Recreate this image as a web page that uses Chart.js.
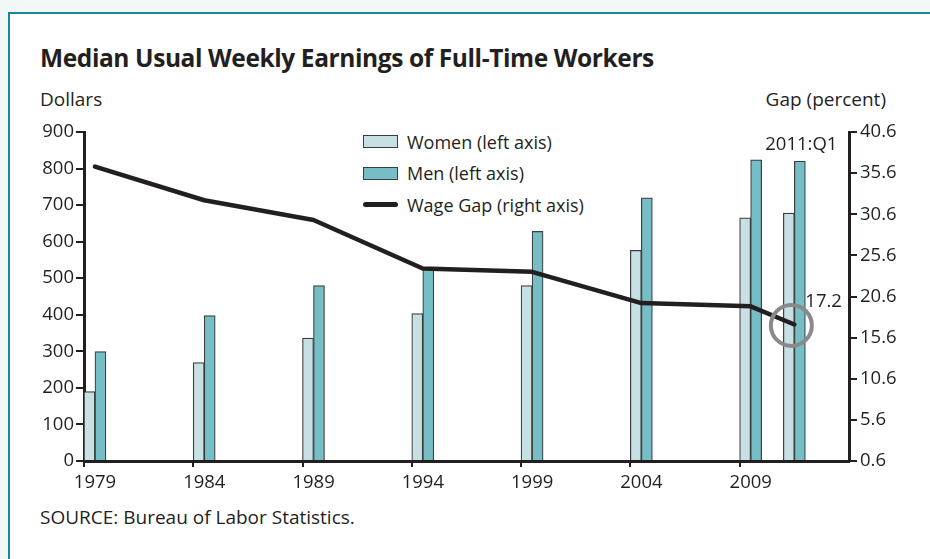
<!DOCTYPE html>
<html>
<head>
<meta charset="utf-8">
<script src="https://cdn.jsdelivr.net/npm/chart.js@4.4.1/dist/chart.umd.min.js"></script>
<style>
body{margin:0;width:930px;height:559px;overflow:hidden;position:relative;background:#f2f7f8;font-family:'Open Sans',sans-serif;color:#231f20}
.frame{position:absolute;left:8px;top:12px;right:0;bottom:0;background:#fff;border-top:2.5px solid #17899a;border-left:2.5px solid #17899a}
.txt{position:absolute;white-space:nowrap;line-height:1}
#title{left:40px;top:46px;font-size:24.5px;font-weight:700;letter-spacing:-0.4px}
#ylab{left:40px;top:90px;font-size:19px}
#y2lab{right:44px;top:90px;font-size:19px}
#source{left:40px;top:508px;font-size:19px}
#legend{position:absolute;left:363px;top:126px;font-size:18px}
.item{display:flex;align-items:center;height:31.5px}
.sw{width:33px;height:11px;border:1px solid #3c3c3c;margin-right:9px}
.ln{width:35px;height:5px;background:#231f20;border-radius:3px;margin-right:9px}
canvas{position:absolute;left:0;top:0}
</style>
</head>
<body>
<div class="frame"></div>
<div class="txt" id="title">Median Usual Weekly Earnings of Full-Time Workers</div>
<div class="txt" id="ylab">Dollars</div>
<div class="txt" id="y2lab">Gap (percent)</div>
<div class="txt" id="source">SOURCE: Bureau of Labor Statistics.</div>
<div id="legend">
  <div class="item"><span class="sw" style="background:#c7e0e4"></span>Women (left axis)</div>
  <div class="item"><span class="sw" style="background:#76bec6"></span>Men (left axis)</div>
  <div class="item"><span class="ln"></span>Wage Gap (right axis)</div>
</div>
<canvas id="chart" width="930" height="559"></canvas>
<script>
// values
const years = [1979, 1984, 1989, 1994, 1999, 2004, 2009, 2011];
const women = [190, 269, 336, 403, 480, 576, 665, 678];
const men = [299, 398, 480, 526, 628, 720, 824, 820];
const gap = [36.4, 32.3, 29.9, 24.0, 23.6, 19.8, 19.4, 17.2];
const tickYears = [1979, 1984, 1989, 1994, 1999, 2004, 2009];
const gapTicks = [0.6, 5.6, 10.6, 15.6, 20.6, 25.6, 30.6, 35.6, 40.6];
const lastLabel = '2011:Q1';

const ink = '#231f20';
const font = { family: "'Open Sans', sans-serif", size: 18.5 };

// bars sit just right of the year tick, so the pair is centred half a year on
const pts = arr => arr.map((v, i) => ({ x: years[i] + 0.5, y: v }));

const notes = {
    id: 'notes',
    afterDatasetsDraw(chart) {
        const c = chart.ctx;
        const x = chart.scales.x, y = chart.scales.y, y2 = chart.scales.y2;
        const n = years.length - 1;
        const px = x.getPixelForValue(years[n] + 0.5);
        const py = y2.getPixelForValue(gap[n]);
        c.save();
        c.strokeStyle = '#8a8a8a';
        c.lineWidth = 4;
        c.beginPath();
        c.arc(px - 3, py + 1, 20.5, 0, Math.PI * 2);
        c.stroke();
        c.fillStyle = ink;
        c.font = "18.5px 'Open Sans', sans-serif";
        c.textBaseline = 'middle';
        c.textAlign = 'left';
        c.fillText(gap[n].toFixed(1), px + 11, py - 23);
        c.textAlign = 'center';
        c.fillText(lastLabel, px + 7, y.getPixelForValue(men[n]) - 17);
        c.restore();
    }
};

new Chart(document.getElementById('chart'), {
    type: 'bar',
    data: {
        datasets: [
            {
                type: 'line',
                label: 'Wage Gap (right axis)',
                data: pts(gap),
                yAxisID: 'y2',
                borderColor: ink,
                borderWidth: 4.5,
                pointRadius: 0,
                tension: 0,
                borderCapStyle: 'round',
                borderJoinStyle: 'round',
                order: 0
            },
            {
                label: 'Women (left axis)',
                data: pts(women),
                backgroundColor: '#c7e0e4',
                borderColor: '#3c3c3c',
                borderWidth: 1.2,
                barThickness: 11,
                order: 1
            },
            {
                label: 'Men (left axis)',
                data: pts(men),
                backgroundColor: '#76bec6',
                borderColor: '#3c3c3c',
                borderWidth: 1.2,
                barThickness: 11,
                order: 1
            }
        ]
    },
    options: {
        responsive: false,
        animation: false,
        devicePixelRatio: 1,
        layout: { padding: { left: 0, right: 0, top: 132, bottom: 68 } },
        plugins: { legend: { display: false }, tooltip: { enabled: false } },
        scales: {
            x: {
                type: 'linear',
                min: 1979,
                max: 2014,
                offset: false,
                afterBuildTicks: s => { s.ticks = tickYears.map(v => ({ value: v })); },
                afterFit: s => { s.height = 30; },
                grid: { drawOnChartArea: false, offset: false, color: ink, lineWidth: 2, tickLength: 6 },
                border: { color: ink, width: 3 },
                ticks: { color: ink, font: font, padding: 5, labelOffset: 11, maxRotation: 0, callback: v => String(v) }
            },
            y: {
                position: 'left',
                min: 0,
                max: 900,
                ticks: { stepSize: 100, color: ink, font: font, padding: 2 },
                afterFit: s => { s.width = 84; },
                grid: { drawOnChartArea: false, color: ink, lineWidth: 2, tickLength: 8 },
                border: { color: ink, width: 3 }
            },
            y2: {
                position: 'right',
                min: 0.6,
                max: 40.6,
                afterBuildTicks: s => { s.ticks = gapTicks.map(v => ({ value: v })); },
                afterFit: s => { s.width = 81; },
                ticks: { color: ink, font: font, padding: 3, callback: v => v.toFixed(1) },
                grid: { drawOnChartArea: false, color: ink, lineWidth: 2, tickLength: 8 },
                border: { color: ink, width: 3 }
            }
        }
    },
    plugins: [notes]
});
</script>
</body>
</html>
